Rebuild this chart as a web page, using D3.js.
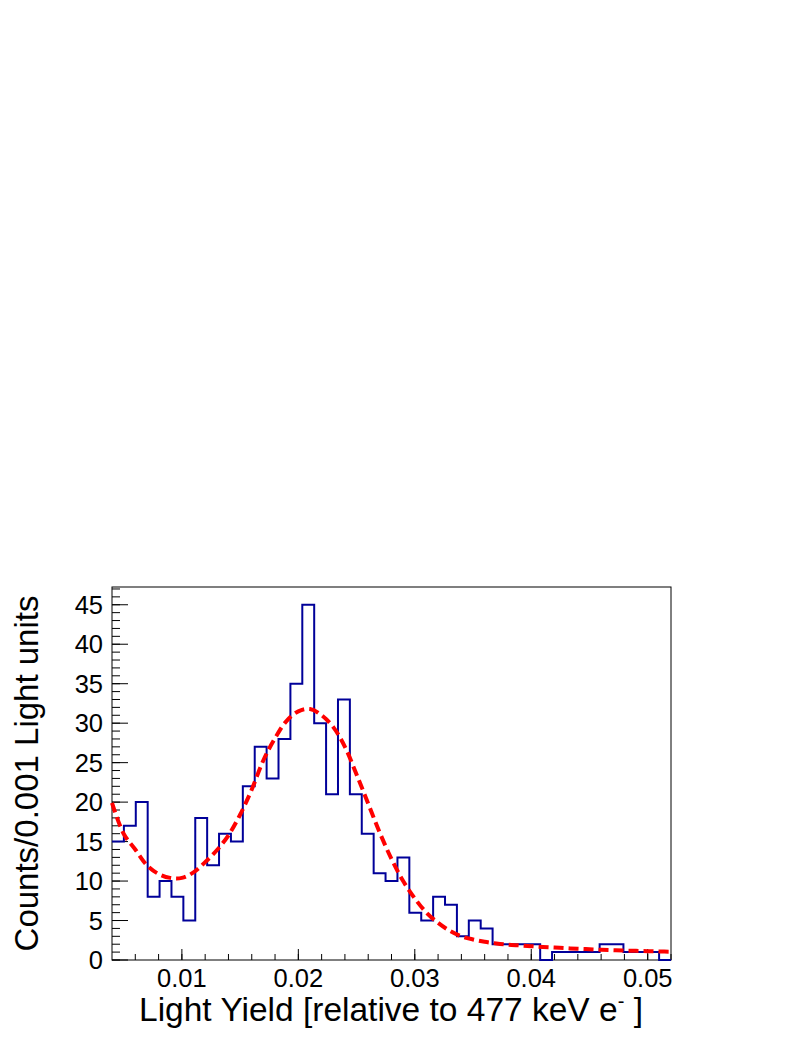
<!DOCTYPE html>
<html>
<head>
<meta charset="utf-8">
<script src="https://cdnjs.cloudflare.com/ajax/libs/d3/7.8.5/d3.min.js"></script>
<style>
  html, body { margin: 0; padding: 0; background: #ffffff; }
  svg { display: block; }
</style>
</head>
<body>
<svg id="chart" width="806" height="1042"></svg>
<script>
// ---- data ----
const xRange = [0.004, 0.052];
const yRange = [0, 47.25];
const binCounts = [15, 17, 20, 8, 10, 8, 5, 18, 12, 16, 15, 22, 27, 23, 28, 35, 45, 30, 21, 33,
                   21, 16, 11, 10, 13, 6, 5, 8, 7, 3, 5, 4, 2, 2, 2, 2, 0, 1, 1, 1,
                   1, 2, 2, 1, 1, 1, 0];
const fitX = [0.004, 0.005, 0.006, 0.007, 0.008, 0.009, 0.010, 0.011, 0.012, 0.013,
              0.014, 0.015, 0.016, 0.017, 0.018, 0.019, 0.020, 0.021, 0.022, 0.023,
              0.024, 0.025, 0.026, 0.027, 0.028, 0.029, 0.030, 0.031, 0.032, 0.033,
              0.034, 0.035, 0.036, 0.037, 0.038, 0.039, 0.040, 0.041, 0.042, 0.043,
              0.044, 0.045, 0.046, 0.047, 0.048, 0.049, 0.050, 0.051, 0.052];
const fitY = [19.9, 16.0, 14.0, 12.0, 10.9, 10.4, 10.4, 11.1, 12.4, 13.9,
              15.8, 18.4, 21.6, 25.3, 28.1, 30.3, 31.5, 31.8, 31.0, 29.5,
              27.0, 23.5, 19.8, 16.1, 12.8, 10.0, 7.8, 6.0, 4.7, 3.7,
              3.0, 2.6, 2.3, 2.1, 1.95, 1.85, 1.75, 1.65, 1.58, 1.5,
              1.42, 1.36, 1.3, 1.25, 1.2, 1.16, 1.12, 1.08, 1.05];
const xMajorTicks = [0.01, 0.02, 0.03, 0.04, 0.05];
const xTickLabels = ["0.01", "0.02", "0.03", "0.04", "0.05"];
const yMajorTicks = [0, 5, 10, 15, 20, 25, 30, 35, 40, 45];
const yTickLabels = ["0", "5", "10", "15", "20", "25", "30", "35", "40", "45"];
const xTitle = "Light Yield [relative to 477 keV e";
const yTitle = "Counts/0.001 Light units";

// ---- layout ----
const L = 112, R = 671, T = 587, B = 960;
const FONT = "'Liberation Sans', Arial, Helvetica, sans-serif";

const svg = d3.select("#chart");
const x = d3.scaleLinear().domain(xRange).range([L, R]);
const y = d3.scaleLinear().domain(yRange).range([B, T]);

// frame
svg.append("rect")
  .attr("x", L).attr("y", T).attr("width", R - L).attr("height", B - T)
  .attr("fill", "none").attr("stroke", "#000").attr("stroke-width", 1);

// x minor ticks every 0.002
const xMinor = d3.range(6, 53, 2).map(v => v / 1000).filter(v => v >= xRange[0] && v <= xRange[1] + 1e-9);
const xAxisG = svg.append("g");
xAxisG.selectAll("line.minor").data(xMinor).enter().append("line")
  .attr("x1", d => x(d)).attr("x2", d => x(d))
  .attr("y1", B).attr("y2", B - 6)
  .attr("stroke", "#000").attr("stroke-width", 1);
xAxisG.selectAll("line.major").data(xMajorTicks).enter().append("line")
  .attr("x1", d => x(d)).attr("x2", d => x(d))
  .attr("y1", B).attr("y2", B - 11)
  .attr("stroke", "#000").attr("stroke-width", 1);
xAxisG.selectAll("text").data(xMajorTicks).enter().append("text")
  .attr("x", d => x(d)).attr("y", 987)
  .attr("text-anchor", "middle")
  .attr("font-family", FONT).attr("font-size", 25.5)
  .text((d, i) => xTickLabels[i]);

// y ticks
const yMinor = d3.range(0, 48, 1);
const yAxisG = svg.append("g");
yAxisG.selectAll("line.minor").data(yMinor).enter().append("line")
  .attr("x1", L).attr("x2", L + 8)
  .attr("y1", d => y(d)).attr("y2", d => y(d))
  .attr("stroke", "#000").attr("stroke-width", 1);
yAxisG.selectAll("line.major").data(yMajorTicks).enter().append("line")
  .attr("x1", L).attr("x2", L + 16)
  .attr("y1", d => y(d)).attr("y2", d => y(d))
  .attr("stroke", "#000").attr("stroke-width", 1);
yAxisG.selectAll("text").data(yMajorTicks).enter().append("text")
  .attr("x", 103).attr("y", d => y(d))
  .attr("dy", "0.36em")
  .attr("text-anchor", "end")
  .attr("font-family", FONT).attr("font-size", 25.5)
  .text((d, i) => yTickLabels[i]);

// histogram step outline
const nb = binCounts.length;
const bw = (xRange[1] - xRange[0]) / nb;
const pts = [];
binCounts.forEach((c, i) => {
  const x0 = xRange[0] + i * bw, x1 = x0 + bw;
  pts.push([x(x0), y(c)]);
  pts.push([x(x1), y(c)]);
});
svg.append("path")
  .attr("d", d3.line()(pts))
  .attr("fill", "none").attr("stroke", "#000099").attr("stroke-width", 2)
  .attr("stroke-linejoin", "miter");

// fit curve
const fitData = fitX.map((v, i) => [v, fitY[i]]);
svg.append("path")
  .attr("d", d3.line().x(d => x(d[0])).y(d => y(d[1])).curve(d3.curveCatmullRom)(fitData))
  .attr("fill", "none").attr("stroke", "#ff0000").attr("stroke-width", 4)
  .attr("stroke-dasharray", "10,5");

// axis titles
const xt = svg.append("text")
  .attr("x", 391).attr("y", 1021)
  .attr("text-anchor", "middle")
  .attr("font-family", FONT).attr("font-size", 33.5);
xt.append("tspan").text(xTitle);
xt.append("tspan").attr("dy", -13).attr("font-size", 20).text("-");
xt.append("tspan").attr("dy", 13).text(" ]");

svg.append("text")
  .attr("transform", `translate(38, ${(T + B) / 2}) rotate(-90)`)
  .attr("text-anchor", "middle")
  .attr("font-family", FONT).attr("font-size", 33)
  .text(yTitle);
</script>
</body>
</html>
